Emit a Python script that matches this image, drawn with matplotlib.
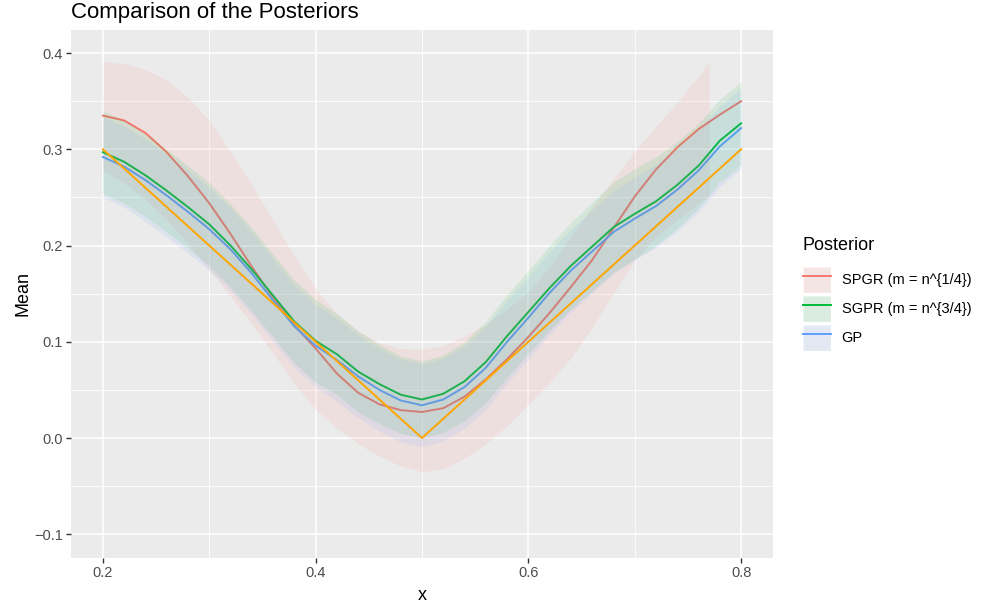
import numpy as np
import matplotlib.pyplot as plt
from matplotlib.patches import Patch
from matplotlib.lines import Line2D
from matplotlib.legend_handler import HandlerTuple

plt.rcParams['font.family'] = ['Liberation Sans', 'DejaVu Sans']

# true function (orange)
x_true = [0.2, 0.5, 0.8]
y_true = [0.3, 0.0, 0.3]

# common x grid for the posterior means
x_grid = np.linspace(0.2, 0.8, 31)

# SPGR (m = n^{1/4}) posterior mean
mean_spgr = [0.335, 0.330, 0.317, 0.297, 0.272, 0.244, 0.212, 0.178, 0.146,
             0.117, 0.093, 0.067, 0.047, 0.035, 0.029, 0.027, 0.031, 0.043,
             0.061, 0.082, 0.105, 0.130, 0.157, 0.185, 0.218, 0.251, 0.279,
             0.302, 0.321, 0.336, 0.350]

# SPGR band (data stops at x = 0.77)
x_spgr_band = [0.2, 0.22, 0.24, 0.26, 0.28, 0.3, 0.32, 0.34, 0.36, 0.38,
               0.4, 0.42, 0.44, 0.46, 0.48, 0.5, 0.52, 0.54, 0.56, 0.58,
               0.6, 0.62, 0.64, 0.66, 0.68, 0.7, 0.72, 0.74, 0.76, 0.77]
upper_spgr = [0.391, 0.389, 0.383, 0.372, 0.354, 0.330, 0.298, 0.263, 0.226,
              0.189, 0.155, 0.129, 0.111, 0.099, 0.093, 0.092, 0.096, 0.106,
              0.118, 0.134, 0.152, 0.178, 0.209, 0.240, 0.269, 0.298, 0.324,
              0.349, 0.376, 0.391]
lower_spgr = [0.278, 0.265, 0.248, 0.227, 0.202, 0.175, 0.147, 0.118, 0.088,
              0.056, 0.030, 0.010, -0.006, -0.019, -0.029, -0.035, -0.032,
              -0.021, -0.006, 0.013, 0.035, 0.058, 0.083, 0.115, 0.150,
              0.185, 0.209, 0.227, 0.244, 0.252]

# SGPR (m = n^{3/4}) and full GP: mean and band half-width
mean_sgpr = [0.297, 0.287, 0.273, 0.257, 0.240, 0.222, 0.200, 0.175, 0.148,
             0.121, 0.101, 0.087, 0.069, 0.056, 0.045, 0.040, 0.046, 0.059,
             0.079, 0.106, 0.131, 0.156, 0.179, 0.199, 0.219, 0.233, 0.246,
             0.263, 0.283, 0.309, 0.327]
hw_sgpr = [0.043, 0.043, 0.043, 0.043, 0.043, 0.043, 0.043, 0.043, 0.043,
           0.043, 0.043, 0.042, 0.042, 0.041, 0.040, 0.040, 0.040, 0.041,
           0.042, 0.043, 0.043, 0.044, 0.045, 0.046, 0.047, 0.047, 0.046,
           0.045, 0.044, 0.043, 0.043]
mean_gp = [0.292, 0.282, 0.268, 0.252, 0.235, 0.217, 0.196, 0.171, 0.143,
           0.116, 0.096, 0.081, 0.064, 0.050, 0.039, 0.034, 0.040, 0.053,
           0.073, 0.100, 0.125, 0.151, 0.174, 0.194, 0.214, 0.228, 0.241,
           0.258, 0.278, 0.303, 0.322]
hw_gp = [0.042, 0.042, 0.043, 0.043, 0.043, 0.043, 0.043, 0.043, 0.043,
         0.043, 0.043, 0.043, 0.043, 0.043, 0.043, 0.043, 0.043, 0.043,
         0.043, 0.043, 0.043, 0.043, 0.043, 0.043, 0.043, 0.043, 0.043,
         0.043, 0.043, 0.042, 0.042]

labels = ["SPGR (m = n^{1/4})", "SGPR (m = n^{3/4})", "GP"]
colors = ["#F8766D", "#00BA38", "#619CFF"]


fig = plt.figure(figsize=(9.82, 6.07), dpi=100)
ax = fig.add_axes([71 / 982, 1 - 558 / 607, 702 / 982, 528 / 607])
ax.set_facecolor("#EBEBEB")

# mean lines first, bands drawn over them like the original
ax.plot(x_grid, mean_spgr, color=colors[0], lw=1.4, zorder=2)
ax.plot(x_grid, mean_sgpr, color=colors[1], lw=1.4, zorder=2)
ax.plot(x_grid, mean_gp, color=colors[2], lw=1.4, zorder=2)

m_s = np.array(mean_sgpr)
m_g = np.array(mean_gp)
ax.fill_between(x_spgr_band, lower_spgr, upper_spgr, color=colors[0],
                alpha=0.1, lw=0, zorder=3)
ax.fill_between(x_grid, m_s - np.array(hw_sgpr), m_s + np.array(hw_sgpr),
                color=colors[1], alpha=0.1, lw=0, zorder=3)
ax.fill_between(x_grid, m_g - np.array(hw_gp), m_g + np.array(hw_gp),
                color=colors[2], alpha=0.1, lw=0, zorder=3)

ax.plot(x_true, y_true, color="#FFA500", lw=1.4, zorder=4)

ax.set_xlim(0.17, 0.83)
ax.set_ylim(-0.1247, 0.424)
ax.set_xticks([0.2, 0.4, 0.6, 0.8])
ax.set_xticklabels(["0.2", "0.4", "0.6", "0.8"])
ax.set_yticks([-0.1, 0.0, 0.1, 0.2, 0.3, 0.4])
ax.set_yticklabels(["\u22120.1", "0.0", "0.1", "0.2", "0.3", "0.4"])
ax.set_xticks([0.3, 0.5, 0.7], minor=True)
ax.set_yticks([-0.05, 0.05, 0.15, 0.25, 0.35], minor=True)
ax.grid(True, which="major", color="white", lw=1.1, zorder=0)
ax.grid(True, which="minor", color="white", lw=0.55, zorder=0)
ax.set_axisbelow(True)
for s in ax.spines.values():
    s.set_visible(False)
ax.tick_params(which="major", length=3.5, width=1, color="#333333",
               labelsize=10.5, labelcolor="#4D4D4D", pad=2.5)
ax.tick_params(which="minor", length=0)

ax.set_xlabel("x", fontsize=13, labelpad=5)
ax.set_ylabel("Mean", fontsize=13, labelpad=2)
fig.text(71 / 982, 1 - 18 / 607, "Comparison of the Posteriors",
         fontsize=16, ha="left", va="baseline")

# legend: title as separate text, keys = grey box + light fill + line
fig.text(803 / 982, 1 - 245 / 607, "Posterior", fontsize=13,
         ha="left", va="center")
handles = []
for c in colors:
    handles.append((Patch(facecolor="#F2F2F2", edgecolor="white"),
                    Patch(facecolor=c, alpha=0.1, edgecolor="none"),
                    Line2D([0], [0], color=c, lw=1.4)))
leg = fig.legend(handles, labels, loc="center left",
                 bbox_to_anchor=(803 / 982, 1 - 309 / 607), frameon=False,
                 fontsize=10.5, borderaxespad=0, borderpad=0,
                 handler_map={tuple: HandlerTuple(ndivide=1, pad=0)},
                 handlelength=1.9, handleheight=2.45, labelspacing=0.15,
                 handletextpad=0.75)

fig.savefig("out.png", dpi=100)
